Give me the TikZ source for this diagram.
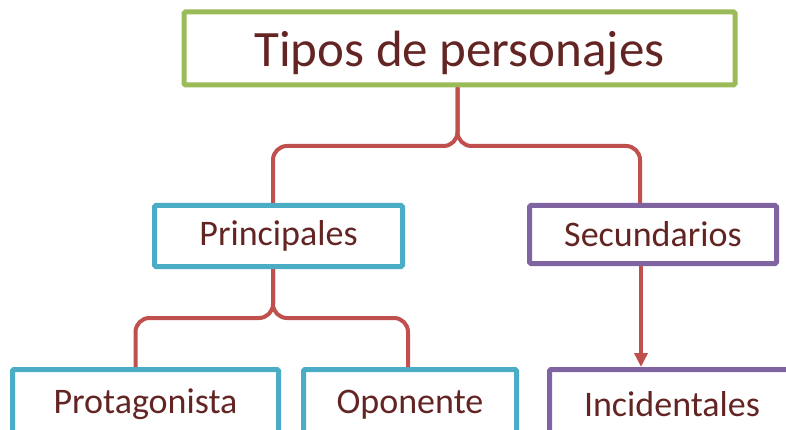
\documentclass[tikz,border=0pt]{standalone}
\usepackage{fontspec}
\setmainfont{Carlito}
\usetikzlibrary{arrows.meta,positioning,calc}
\definecolor{boxgreen}{RGB}{155,187,89}
\definecolor{boxblue}{RGB}{75,172,198}
\definecolor{boxpurple}{RGB}{128,100,162}
\definecolor{linkred}{RGB}{192,80,77}
\definecolor{textbrown}{RGB}{99,37,35}

\begin{document}
\begin{tikzpicture}[x=1pt, y=-1pt, line width=5pt]
   \useasboundingbox (0,0) rectangle (786,430);
   \clip (0,0) rectangle (786,430);
   \begin{scope}[every node/.style={rectangle,draw,text=textbrown,inner sep=0pt,rounded corners=1.5pt,font=\fontsize{36}{42}\selectfont}]
    \node (tipos) [draw=boxgreen, minimum width=551pt, minimum height=73pt, text depth=0pt, font=\fontsize{51}{60}\selectfont] at (459.5,48.5) {Tipos de personajes};
    \node (prin) [draw=boxblue, minimum width=248pt, minimum height=61pt] at (278.5,236) {Principales};
    \node (sec) [draw=boxpurple, minimum width=247pt, minimum height=58pt] at (653,234.5) {Secundarios};
    \node (prot) [draw=boxblue, minimum width=266pt, minimum height=70pt] at (145.5,404.5) {Protagonista};
    \node (opon) [draw=boxblue, minimum width=213pt, minimum height=70pt] at (410,404.5) {Oponente};
    \node (inc) [draw=boxpurple, minimum width=245pt, minimum height=70pt] at (672,404.5) {Incidentales};
   \end{scope}
   \begin{scope}[draw=linkred, line width=4pt, rounded corners=14pt]
    \draw ([xshift=-2pt]tipos.south) -- ++(0,58.5) -| ([xshift=-5.5pt]prin.north);
    \draw ([xshift=-2pt]tipos.south) -- ++(0,58.5) -| ([xshift=-13pt]sec.north);
    \draw ([xshift=-5.5pt]prin.south) -- ++(0,49) -| ([xshift=-10pt]prot.north);
    \draw ([xshift=-5.5pt]prin.south) -- ++(0,49) -| ([xshift=-2pt]opon.north);
    \draw [-{Triangle[length=14pt,width=13pt]}, sharp corners] ([xshift=-12pt]sec.south) -- ([xshift=-12pt]sec.south |- inc.north);
   \end{scope}
\end{tikzpicture}
\end{document}
